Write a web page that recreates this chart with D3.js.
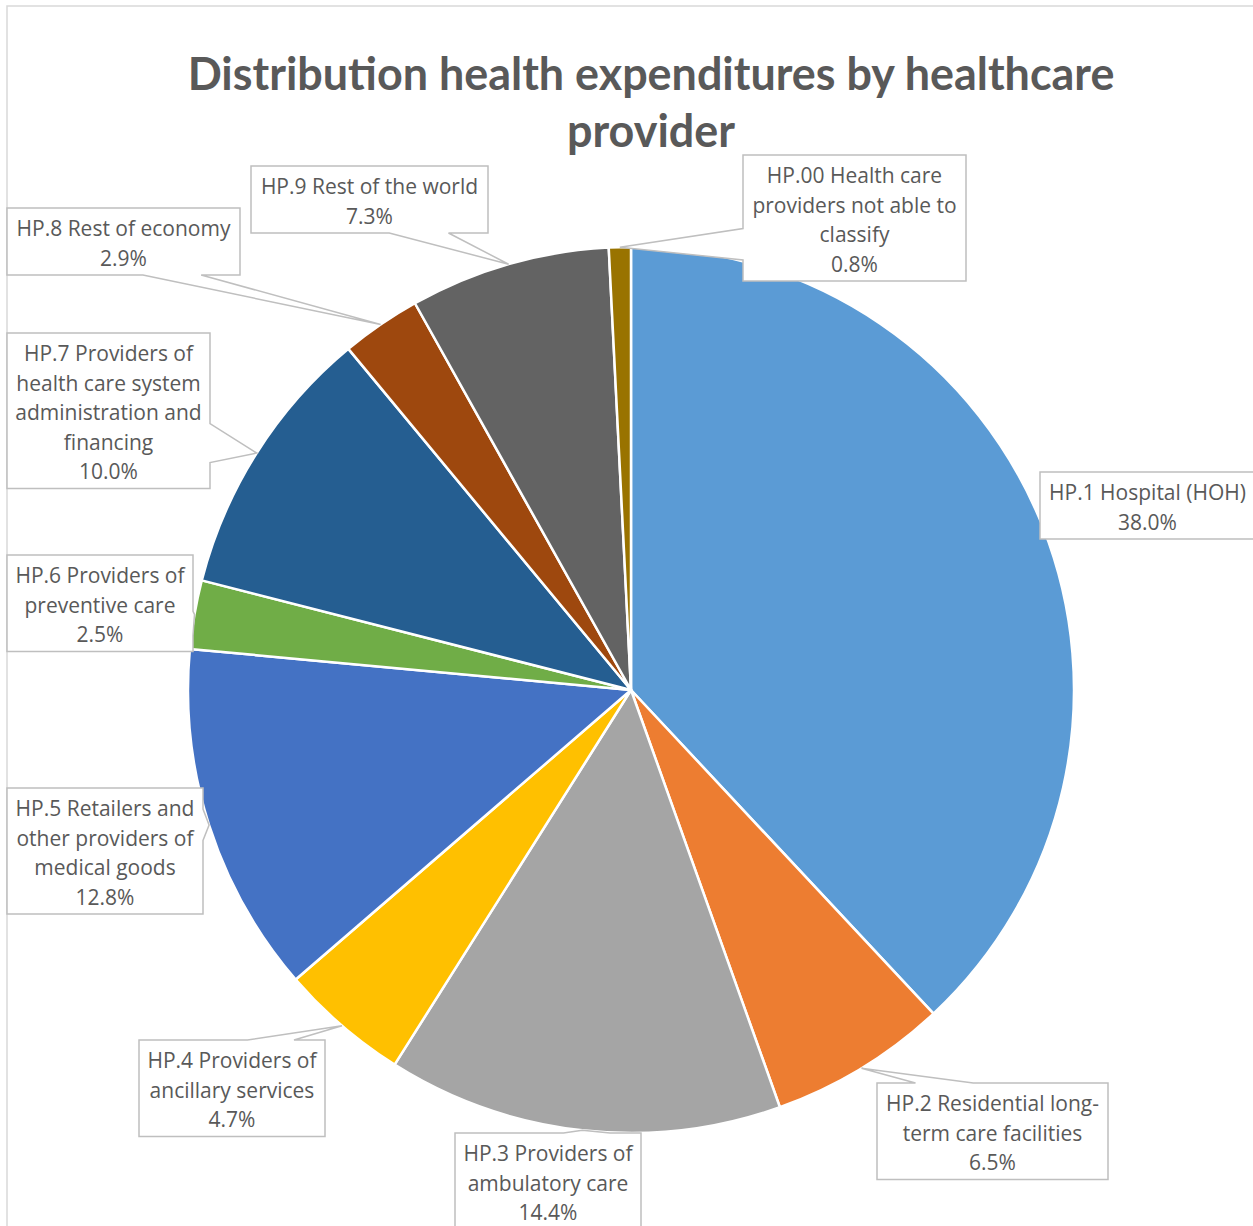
<!DOCTYPE html>
<html>
<head>
<meta charset="utf-8">
<script src="https://cdn.jsdelivr.net/npm/d3@7"></script>
<style>
  html, body { margin: 0; padding: 0; background: #fff; }
  svg { display: block; }
</style>
</head>
<body>
<svg id="chart" width="1253" height="1226"></svg>
<script>
// Shares of health expenditure by provider, clockwise from 12 o'clock
const categories = ["HP.1", "HP.2", "HP.3", "HP.4", "HP.5", "HP.6", "HP.7", "HP.8", "HP.9", "HP.00"];
const shares = [38.0, 6.5, 14.4, 4.7, 12.8, 2.5, 10.0, 2.9, 7.3, 0.8];
const labelLines = [
  ["HP.1 Hospital (HOH)"],
  ["HP.2 Residential long-", "term care facilities"],
  ["HP.3 Providers of", "ambulatory care"],
  ["HP.4 Providers of", "ancillary services"],
  ["HP.5 Retailers and", "other providers of", "medical goods"],
  ["HP.6 Providers of", "preventive care"],
  ["HP.7 Providers of", "health care system", "administration and", "financing"],
  ["HP.8 Rest of economy"],
  ["HP.9 Rest of the world"],
  ["HP.00 Health care", "providers not able to", "classify"]
];
const sliceColors = ["#5B9BD5", "#ED7D31", "#A5A5A5", "#FFC000", "#4472C4",
                     "#70AD47", "#255E91", "#9E480E", "#636363", "#997300"];
const titleLines = ["Distribution health expenditures by healthcare", "provider"];

// Callout box placement (left, top, width) for each category
const boxLayout = {
  "HP.1":  [1040, 472, 215],
  "HP.2":  [877, 1083, 231],
  "HP.3":  [455, 1133, 186],
  "HP.4":  [139, 1040, 186],
  "HP.5":  [7, 788, 196],
  "HP.6":  [7, 555, 186],
  "HP.7":  [7, 333, 203],
  "HP.8":  [7, 208, 233],
  "HP.9":  [251, 166, 237],
  "HP.00": [743, 155, 223]
};

const svg = d3.select("#chart");
const W = 1253, H = 1226;
const cx = 631, cy = 690, R = 443;
const textColor = "#595959";
const lineH = 29.5;

// chart area frame
svg.append("rect")
  .attr("x", 7).attr("y", 6)
  .attr("width", W).attr("height", H)
  .attr("fill", "#fff")
  .attr("stroke", "#D9D9D9").attr("stroke-width", 1.5);

// title
const title = svg.append("g").attr("class", "title");
const t1 = title.append("text")
  .attr("x", 651).attr("y", 90)
  .attr("text-anchor", "middle")
  .attr("font-family", "Lato, 'Open Sans', sans-serif")
  .attr("font-weight", "bold")
  .attr("font-size", 44)
  .attr("fill", textColor)
  .text(titleLines[0]);
const natural = t1.node().getComputedTextLength();
const titleSize = Math.min(46, 44 * 927 / natural);
t1.attr("font-size", titleSize);
title.append("text")
  .attr("x", 651).attr("y", 147)
  .attr("text-anchor", "middle")
  .attr("font-family", "Lato, 'Open Sans', sans-serif")
  .attr("font-weight", "bold")
  .attr("font-size", titleSize)
  .attr("fill", textColor)
  .text(titleLines[1]);

// pie
const data = categories.map((c, i) => ({ cat: c, value: shares[i], lines: labelLines[i], color: sliceColors[i] }));
const pie = d3.pie().value(d => d.value).sort(null);
const arcs = pie(data);
const arc = d3.arc().innerRadius(0).outerRadius(R);

const g = svg.append("g").attr("transform", `translate(${cx},${cy})`);
g.selectAll("path.slice")
  .data(arcs)
  .join("path")
  .attr("class", "slice")
  .attr("d", arc)
  .attr("fill", d => d.data.color)
  .attr("stroke", "#fff")
  .attr("stroke-width", 2.5)
  .attr("stroke-linejoin", "round");

// Rectangular callout with a wedge pointing at (tx, ty)
function calloutPath(x, y, w, h, tx, ty) {
  const hc = x + w / 2, vc = y + h / 2;
  const dxPos = tx - hc, dyPos = ty - vc;
  const inside = Math.abs(dxPos) <= w / 2 && Math.abs(dyPos) <= h / 2;
  const p = d3.path();
  if (inside) {
    p.rect(x, y, w, h);
    return p.toString();
  }
  const dq = dxPos * h / w;
  const vertical = Math.abs(dyPos) - Math.abs(dq) > 0;
  const x1 = x + w * (dxPos > 0 ? 7 : 2) / 12, x2 = x + w * (dxPos > 0 ? 10 : 5) / 12;
  const y1 = y + h * (dyPos > 0 ? 7 : 2) / 12, y2 = y + h * (dyPos > 0 ? 10 : 5) / 12;
  p.moveTo(x, y);
  if (vertical && dyPos < 0) { p.lineTo(x1, y); p.lineTo(tx, ty); p.lineTo(x2, y); }
  p.lineTo(x + w, y);
  if (!vertical && dxPos > 0) { p.lineTo(x + w, y1); p.lineTo(tx, ty); p.lineTo(x + w, y2); }
  p.lineTo(x + w, y + h);
  if (vertical && dyPos > 0) { p.lineTo(x2, y + h); p.lineTo(tx, ty); p.lineTo(x1, y + h); }
  p.lineTo(x, y + h);
  if (!vertical && dxPos < 0) { p.lineTo(x, y2); p.lineTo(tx, ty); p.lineTo(x, y1); }
  p.closePath();
  return p.toString();
}

const fmt = d3.format(".1f");
const labels = svg.append("g").attr("class", "labels");
arcs.forEach(a => {
  const [bx, by, bw] = boxLayout[a.data.cat];
  const lines = a.data.lines.concat([fmt(a.data.value) + "%"]);
  const bh = lines.length * lineH + 8;
  const mid = (a.startAngle + a.endAngle) / 2;
  const tx = cx + R * Math.sin(mid), ty = cy - R * Math.cos(mid);
  const lg = labels.append("g");
  lg.append("path")
    .attr("d", calloutPath(bx, by, bw, bh, tx, ty))
    .attr("fill", "#fff")
    .attr("stroke", "#BFBFBF")
    .attr("stroke-width", 1.5)
    .attr("stroke-linejoin", "miter");
  const txt = lg.append("text")
    .attr("text-anchor", "middle")
    .attr("font-family", "'Open Sans', Lato, sans-serif")
    .attr("font-size", 21)
    .attr("fill", textColor);
  lines.forEach((l, i) => {
    txt.append("tspan")
      .attr("x", bx + bw / 2)
      .attr("y", by + 28 + i * lineH)
      .text(l);
  });
});
</script>
</body>
</html>
